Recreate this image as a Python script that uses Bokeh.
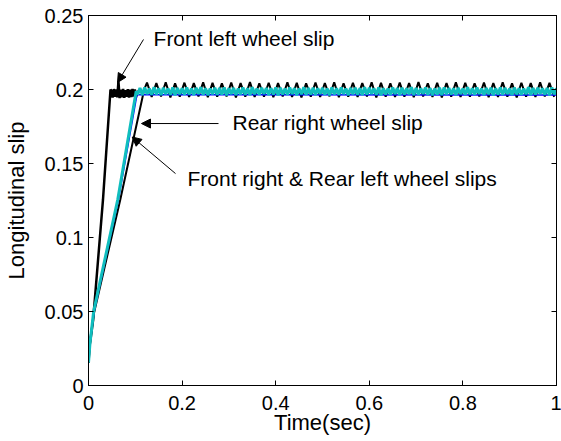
import numpy as np
from bokeh.plotting import figure
from bokeh.models import Range1d, FixedTicker, LinearAxis, Arrow, NormalHead, Label
from bokeh.embed import file_html
from bokeh.resources import INLINE

# ---------------- data ----------------
x_ticks = [0, 0.2, 0.4, 0.6, 0.8, 1.0]
y_ticks = [0, 0.05, 0.1, 0.15, 0.2, 0.25]

# Front left wheel slip: rise then dense oscillation
fl_rise_t = [0.0, 0.002, 0.010, 0.031, 0.047]
fl_rise_s = [0.0155, 0.026, 0.0446, 0.1257, 0.200]
fl_ss_start, fl_ss_step = 0.049, 0.0025
fl_ss = [0.1990, 0.1945, 0.2003, 0.1950, 0.2000, 0.1948, 0.2055, 0.1942, 0.1998, 0.1948,
         0.2004, 0.1944, 0.1996, 0.1951, 0.2002, 0.1946, 0.1999, 0.1949, 0.2003, 0.1952,
         0.2001, 0.1947, 0.1985]
fl_tail_t = [1.0]
fl_tail_s = [0.1985]

# Rear right wheel slip
rr_rise_t = [0.0, 0.003, 0.011, 0.068, 0.119]
rr_rise_s = [0.0155, 0.028, 0.048, 0.1257, 0.200]
rr_ss_start, rr_ss_step = 0.125, 0.01
rr_ss = [0.2047, 0.1950, 0.2044, 0.1953, 0.2049, 0.1947, 0.2042, 0.1952, 0.2046, 0.1949,
         0.2043, 0.1954, 0.2048, 0.1948, 0.2045, 0.1951, 0.2041, 0.1953, 0.2047, 0.1946,
         0.2044, 0.1952, 0.2050, 0.1949, 0.2042, 0.1951, 0.2046, 0.1948, 0.2043, 0.1953,
         0.2048, 0.1950, 0.2045, 0.1947, 0.2041, 0.1952, 0.2047, 0.1949, 0.2044, 0.1954,
         0.2049, 0.1948, 0.2042, 0.1951, 0.2046, 0.1950, 0.2043, 0.1953, 0.2048, 0.1947,
         0.2045, 0.1952, 0.2041, 0.1949, 0.2047, 0.1951, 0.2044, 0.1948, 0.2050, 0.1953,
         0.2042, 0.1950, 0.2046, 0.1947, 0.2043, 0.1952, 0.2048, 0.1949, 0.2045, 0.1951,
         0.2041, 0.1954, 0.2047, 0.1948, 0.2044, 0.1950, 0.2049, 0.1952, 0.2042, 0.1947,
         0.2046, 0.1951, 0.2043, 0.1949, 0.2048, 0.1953, 0.2045, 0.1950]

# Front right wheel slip (blue)
fr_t = [0.0, 0.003, 0.012, 0.064, 0.1035, 1.0]
fr_s = [0.0155, 0.028, 0.050, 0.1257, 0.1965, 0.1962]

# Rear left wheel slip (cyan)
rl_rise_t = [0.0, 0.003, 0.011, 0.0625, 0.102]
rl_rise_s = [0.0155, 0.028, 0.050, 0.1257, 0.199]
rl_ss_start, rl_ss_step = 0.105, 0.005
rl_ss = [0.1966, 0.2010, 0.1963, 0.2013, 0.1969, 0.2007, 0.1964, 0.2015, 0.1967, 0.2009,
         0.1962, 0.2012, 0.1968, 0.2006, 0.1965, 0.2014, 0.1961, 0.2010, 0.1969, 0.2008,
         0.1964, 0.2013, 0.1967, 0.2007, 0.1963, 0.2011, 0.1970, 0.2015, 0.1965, 0.2009,
         0.1962, 0.2006, 0.1968, 0.2012, 0.1964, 0.2010, 0.1966, 0.2014, 0.1961, 0.2008,
         0.1969, 0.2011, 0.1963, 0.2007, 0.1967, 0.2013, 0.1965, 0.2009, 0.1962, 0.2015,
         0.1968, 0.2006, 0.1964, 0.2012, 0.1970, 0.2010, 0.1963, 0.2008, 0.1966, 0.2014,
         0.1961, 0.2011, 0.1967, 0.2007, 0.1965, 0.2013, 0.1969, 0.2009, 0.1962, 0.2006,
         0.1968, 0.2015, 0.1964, 0.2010, 0.1966, 0.2012, 0.1963, 0.2008, 0.1970, 0.2011,
         0.1965, 0.2007, 0.1961, 0.2014, 0.1967, 0.2009, 0.1964, 0.2013, 0.1969, 0.2006,
         0.1962, 0.2010, 0.1968, 0.2012, 0.1965, 0.2008, 0.1963, 0.2015, 0.1966, 0.2011,
         0.1970, 0.2007, 0.1964, 0.2013, 0.1961, 0.2009, 0.1967, 0.2006, 0.1965, 0.2014,
         0.1969, 0.2010, 0.1962, 0.2012, 0.1966, 0.2008, 0.1968, 0.2015, 0.1963, 0.2011,
         0.1965, 0.2007, 0.1970, 0.2013, 0.1964, 0.2009, 0.1961, 0.2006, 0.1967, 0.2012,
         0.1963, 0.2014, 0.1968, 0.2010, 0.1966, 0.2008, 0.1962, 0.2011, 0.1969, 0.2007,
         0.1964, 0.2015, 0.1967, 0.2009, 0.1965, 0.2013, 0.1970, 0.2006, 0.1963, 0.2010,
         0.1968, 0.2012, 0.1961, 0.2008, 0.1966, 0.2014, 0.1964, 0.2011, 0.1969, 0.2007,
         0.1962, 0.2013, 0.1967, 0.2009, 0.1965, 0.2006, 0.1968, 0.2015, 0.1963, 0.2010,
         0.1966, 0.2012, 0.1970, 0.2008, 0.1964, 0.2011, 0.1961, 0.2014, 0.1967, 0.2009]

# annotations: text positions and arrow start/end (data units)
ann_texts = ["Front left wheel slip", "Rear right wheel slip", "Front right & Rear left wheel slips"]
ann_text_x = [0.139, 0.3077, 0.2115]
ann_text_y = [0.2345, 0.1774, 0.1402]
ann_ax0 = [0.1175, 0.2778, 0.1859]
ann_ay0 = [0.2338, 0.1770, 0.1432]
ann_ax1 = [0.0620, 0.1132, 0.0934]
ann_ay1 = [0.2047, 0.1770, 0.1679]

# ---------------- build series ----------------
def grid(start, step, n):
    return list(start + step * np.arange(n))

fl_t = fl_rise_t + grid(fl_ss_start, fl_ss_step, len(fl_ss)) + fl_tail_t
fl_s = fl_rise_s + fl_ss + fl_tail_s
rr_t = rr_rise_t + grid(rr_ss_start, rr_ss_step, len(rr_ss))
rr_s = rr_rise_s + rr_ss
rl_t = rl_rise_t + grid(rl_ss_start, rl_ss_step, len(rl_ss))
rl_s = rl_rise_s + rl_ss

FONT = "Liberation Sans"

p = figure(width=561, height=441, x_range=Range1d(0, 1), y_range=Range1d(0, 0.25),
           output_backend="svg", toolbar_location=None,
           min_border_left=88, min_border_right=5, min_border_top=15, min_border_bottom=56)
p.grid.visible = False
p.outline_line_color = "black"
p.outline_line_width = 1
p.background_fill_color = "white"
p.border_fill_color = "white"

p.line(fl_t, fl_s, line_color="black", line_width=2.5)
p.line(rr_t, rr_s, line_color="black", line_width=2)
p.line(fr_t, fr_s, line_color="#0000FF", line_width=1.5)
p.line(rl_t, rl_s, line_color="#10BEBE", line_width=3)

def style_axis(ax, show_labels=True):
    ax.axis_line_color = "black"
    ax.major_tick_line_color = "black"
    ax.major_tick_in = 5
    ax.major_tick_out = 0
    ax.minor_tick_line_color = None
    ax.major_label_text_font = FONT
    ax.major_label_text_color = "black"
    ax.major_label_text_font_size = "20px" if show_labels else "0px"
    ax.axis_label_text_font = FONT
    ax.axis_label_text_font_size = "22px"
    ax.axis_label_text_font_style = "normal"
    ax.axis_label_text_color = "black"

p.xaxis.ticker = FixedTicker(ticks=x_ticks)
p.yaxis.ticker = FixedTicker(ticks=y_ticks)
p.xaxis.major_label_overrides = {0: "0", 1: "1"}
p.yaxis.major_label_overrides = {0: "0"}
style_axis(p.xaxis[0])
style_axis(p.yaxis[0])
p.xaxis.axis_label = "Time(sec)"
p.yaxis.axis_label = "Longitudinal slip"
p.xaxis.major_label_standoff = 10
p.yaxis.major_label_standoff = 5
p.xaxis.axis_label_standoff = -3
p.yaxis.axis_label_standoff = 13

top_ax = LinearAxis(ticker=FixedTicker(ticks=x_ticks), major_label_standoff=0)
right_ax = LinearAxis(ticker=FixedTicker(ticks=y_ticks), major_label_standoff=0)
style_axis(top_ax, False)
style_axis(right_ax, False)
top_ax.major_label_overrides = {t: "" for t in x_ticks}
right_ax.major_label_overrides = {t: "" for t in y_ticks}
p.add_layout(top_ax, "above")
p.add_layout(right_ax, "right")

for txt, tx, ty, x0, y0, x1, y1 in zip(ann_texts, ann_text_x, ann_text_y,
                                        ann_ax0, ann_ay0, ann_ax1, ann_ay1):
    p.add_layout(Arrow(end=NormalHead(size=9, fill_color="black", line_color="black"),
                       x_start=x0, y_start=y0, x_end=x1, y_end=y1,
                       line_color="black", line_width=1))
    p.add_layout(Label(x=tx, y=ty, text=txt, text_font=FONT, text_font_size="21px",
                       text_color="black", text_baseline="middle", text_align="left"))

open("out.html", "w").write(file_html(p, INLINE))
